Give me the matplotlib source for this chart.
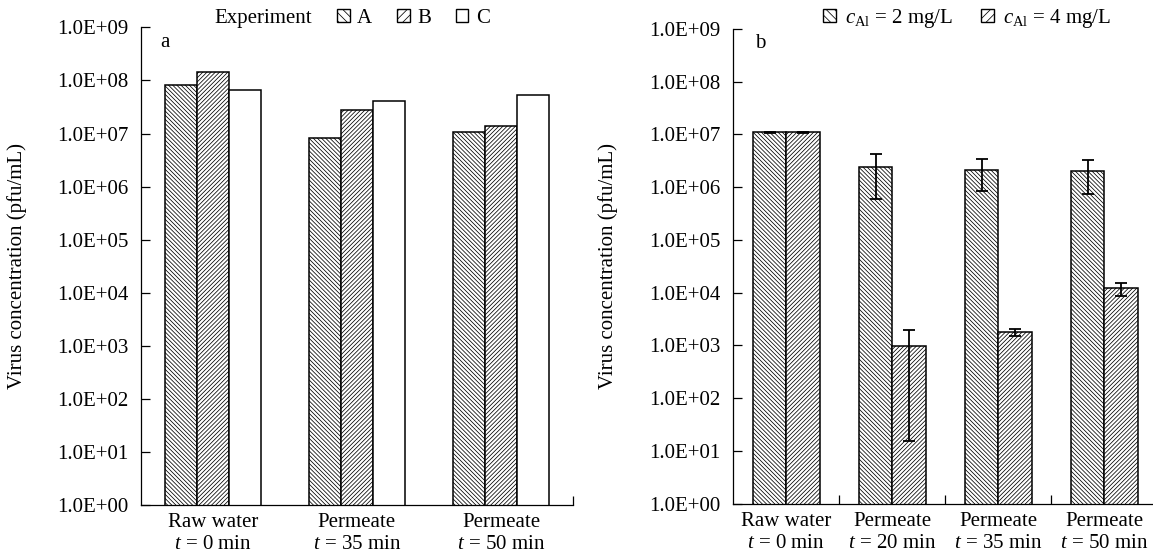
import numpy as np
import matplotlib
matplotlib.use('Agg')
import matplotlib.pyplot as plt
from matplotlib.ticker import FuncFormatter, FixedLocator, NullLocator
from matplotlib.patches import Patch

plt.rcParams['font.family'] = ['Liberation Serif', 'DejaVu Serif']
plt.rcParams['mathtext.fontset'] = 'custom'
plt.rcParams['mathtext.rm'] = 'Liberation Serif'
plt.rcParams['mathtext.it'] = 'Liberation Serif:italic'
plt.rcParams['hatch.linewidth'] = 0.55
plt.rcParams['font.size'] = 15

# panel a
cats_a = ['Raw water\n$t$ = 0 min', 'Permeate\n$t$ = 35 min', 'Permeate\n$t$ = 50 min']
exp_a = [8.2e7, 8.4e6, 1.05e7]
exp_b = [1.44e8, 2.8e7, 1.38e7]
exp_c = [6.7e7, 4.1e7, 5.4e7]

# panel b
cats_b = ['Raw water\n$t$ = 0 min', 'Permeate\n$t$ = 20 min',
          'Permeate\n$t$ = 35 min', 'Permeate\n$t$ = 50 min']
al2 = [1.1e7, 2.4e6, 2.1e6, 2.0e6]
al2_err = [2e5, 1.8e6, 1.27e6, 1.26e6]
al4 = [1.1e7, 980, 1770, 1.2e4]
al4_err = [2e5, 965, 260, 3300]

HA = '\\' * 8   # dense back-slash hatch
HB = '/' * 8

fmt = FuncFormatter(lambda v, p: '%.1E' % v)


def style_axis(ax):
    ax.set_yscale('log')
    ax.set_ylim(1, 1e9)
    ax.yaxis.set_major_locator(FixedLocator([10.0 ** k for k in range(10)]))
    ax.yaxis.set_minor_locator(NullLocator())
    ax.yaxis.set_major_formatter(fmt)
    ax.spines['top'].set_visible(False)
    ax.spines['right'].set_visible(False)
    for s in ('left', 'bottom'):
        ax.spines[s].set_linewidth(0.9)
    ax.tick_params(axis='y', which='major', direction='in', length=6.5, width=0.9,
                   pad=9, labelsize=15)
    ax.tick_params(axis='x', which='major', direction='in', length=6.5, width=0.9,
                   labelbottom=False)
    ax.tick_params(axis='x', which='minor', length=0, pad=6, labelsize=15)
    ax.set_ylabel('Virus concentration (pfu/mL)', fontsize=15)


fig = plt.figure(figsize=(11.53, 5.56), dpi=100)

# ---- a
ax1 = fig.add_axes([0.122, 0.0917, 0.375, 0.859])
x = np.arange(len(cats_a))
w = 0.223
ax1.bar(x - w, exp_a, w, color='white', edgecolor='black', hatch=HA, linewidth=1.1)
ax1.bar(x, exp_b, w, color='white', edgecolor='black', hatch=HB, linewidth=1.1)
ax1.bar(x + w, exp_c, w, color='white', edgecolor='black', linewidth=1.1)
ax1.set_xlim(-0.5, 2.5)
style_axis(ax1)
ax1.xaxis.set_major_locator(FixedLocator([2.5]))
ax1.xaxis.set_minor_locator(FixedLocator(x))
ax1.set_xticklabels(cats_a, minor=True)
ax1.yaxis.set_label_coords(-0.262, 0.5)

# ---- b
ax2 = fig.add_axes([0.636, 0.0944, 0.3677, 0.8536])
x2 = np.arange(len(cats_b))
w2 = 0.314
ekw = dict(elinewidth=1.3, capthick=1.3)
ax2.bar(x2 - w2 / 2, al2, w2, color='white', edgecolor='black', hatch=HA,
        linewidth=1.1, yerr=al2_err, capsize=4, error_kw=ekw)
ax2.bar(x2 + w2 / 2, al4, w2, color='white', edgecolor='black', hatch=HB,
        linewidth=1.1, yerr=al4_err, capsize=4, error_kw=ekw)
ax2.set_xlim(-0.5, 3.5)
style_axis(ax2)
ax2.xaxis.set_major_locator(FixedLocator([0.5, 1.5, 2.5]))
ax2.xaxis.set_minor_locator(FixedLocator(x2))
ax2.set_xticklabels(cats_b, minor=True)
ax2.yaxis.set_label_coords(-0.272, 0.5)

fig.text(0.143, 0.924, 'a', fontsize=15, ha='center', va='center')
fig.text(0.659, 0.922, 'b', fontsize=15, ha='center', va='center')

# legends
h_a = [Patch(facecolor='white', edgecolor='black', hatch='\\\\\\\\', lw=1.0),
       Patch(facecolor='white', edgecolor='black', hatch='////', lw=1.0),
       Patch(facecolor='white', edgecolor='black', lw=1.0)]
fig.text(0.2706, 0.967, 'Experiment', fontsize=15, ha='right', va='center')
fig.legend(h_a, ['A', 'B', 'C'], loc='center left', bbox_to_anchor=(0.2836, 0.967),
           ncol=3, frameon=False, borderpad=0, handlelength=0.6, handleheight=0.6,
           handletextpad=0.35, columnspacing=1.2, fontsize=15)

fig.legend(h_a[:2], [r'$c_{\mathrm{Al}}$ = 2 mg/L', r'$c_{\mathrm{Al}}$ = 4 mg/L'],
           loc='center left', bbox_to_anchor=(0.7048, 0.967), ncol=2, frameon=False,
           borderpad=0, handlelength=0.6, handleheight=0.6, handletextpad=0.45,
           columnspacing=1.35, fontsize=15)

fig.savefig('out.png', dpi=100)
